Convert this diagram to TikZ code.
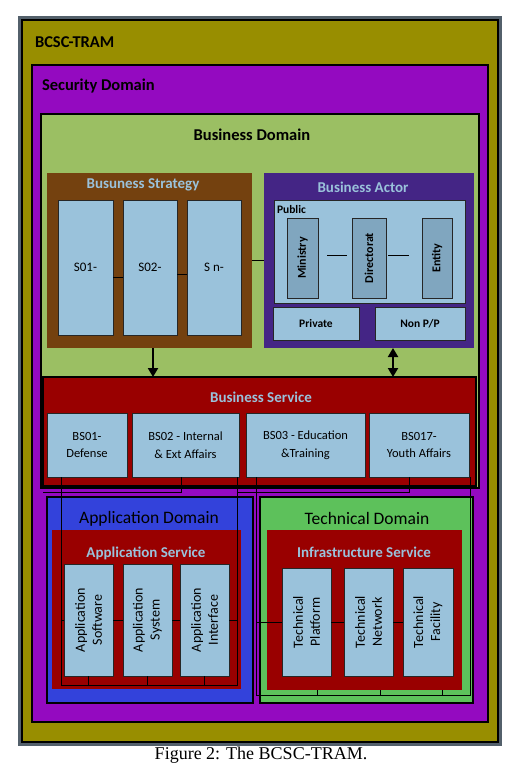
\documentclass[tikz,border=0pt]{standalone}
\usepackage{fontspec}
\setmainfont{Carlito}
\newfontfamily\capfont{Liberation Serif}
\usetikzlibrary{arrows.meta,calc}
\definecolor{cgray}{HTML}{53606B}
\definecolor{colive}{HTML}{988E00}
\definecolor{cpurple}{HTML}{940AC0}
\definecolor{clgreen}{HTML}{9BBF63}
\definecolor{cbrown}{HTML}{74410F}
\definecolor{cindigo}{HTML}{442585}
\definecolor{clblue}{HTML}{9AC2DB}
\definecolor{cmblue}{HTML}{80A6BF}
\definecolor{cdred}{HTML}{990000}
\definecolor{cblue}{HTML}{3342DB}
\definecolor{cgreen}{HTML}{5DC15B}
\newcommand\fsz[1]{\fontsize{#1}{#1}\selectfont}
\newcommand\bx[7]{\node[#1,anchor=north west,minimum width={(#4)-(#2)},minimum height={(#5)-(#3)}] (#6) at (#2,#3) {#7};}
\begin{document}
\begin{tikzpicture}[x=1pt,y=-1pt,
  every node/.style={inner sep=0pt,outer sep=0pt},
  domframe/.style={draw=black,line width=1.5pt},
  lbox/.style={fill=clblue,draw=black!85,line width=0.7pt,align=center},
  mbox/.style={fill=cmblue,draw=black!85,line width=0.7pt},
  bigttl/.style={font=\bfseries\fsz{16.5}},
  domttl/.style={font=\fsz{17.5}},
  svcttl/.style={font=\bfseries\fsz{15},text=clblue},
  conn/.style={draw=black,line width=0.7pt},
  bigarrow/.style={draw=black,line width=2pt}
]
\useasboundingbox (0,0) rectangle (522,767);
% frames
\bx{fill=cgray}{18}{16}{502}{746}{frame}{}
\bx{fill=colive,draw=black,line width=1.2pt}{22}{20}{498}{742}{olive}{}
\bx{fill=cpurple,domframe}{32}{65}{488}{722}{sec}{}
\bx{fill=clgreen,domframe}{41}{114}{479}{488}{bus}{}
\node[bigttl,anchor=west] (tram-t) at (35,42) {BCSC-TRAM};
\node[bigttl,anchor=west] (sec-t) at (42,86) {Security Domain};
\node[bigttl] (bus-t) at (252,135) {Business Domain};
% strategy
\bx{fill=cbrown}{47}{173}{252}{348}{strat}{}
\node[svcttl] (strat-t) at (143,185) {Busuness Strategy};
\bx{lbox,font=\fsz{13}}{58}{200}{113}{335}{s01}{S01-}
\bx{lbox,font=\fsz{13}}{123}{200}{177}{335}{s02}{S02-}
\bx{lbox,font=\fsz{13}}{187}{200}{241}{335}{sn}{S n-}
% actor
\bx{fill=cindigo}{264}{173}{474}{348}{actor}{}
\node[svcttl] (actor-t) at (363,187) {Business Actor};
\bx{lbox}{274}{200}{465}{303}{public}{}
\node[font=\bfseries\fsz{11.5},anchor=west] (public-t) at (277,210) {Public};
\bx{mbox}{287}{218}{318}{298}{ministry}{}
\bx{mbox}{352}{218}{386}{298}{direct}{}
\bx{mbox}{422}{218}{452}{298}{entity}{}
\node[rotate=90,font=\bfseries\fsz{12}] (ministry-t) at (ministry) {Ministry};
\node[rotate=90,font=\bfseries\fsz{12}] (direct-t) at (direct) {Directorat};
\node[rotate=90,font=\bfseries\fsz{12}] (entity-t) at (entity) {Entity};
\bx{lbox,font=\bfseries\fsz{11.5}}{273}{307}{359}{340}{private}{Private}
\bx{lbox,font=\bfseries\fsz{11.5}}{375}{307}{465}{340}{nonpp}{Non P/P}
% service
\bx{fill=cdred,domframe}{43}{377}{476}{486}{service}{}
\node[svcttl] (service-t) at (261,397) {Business Service};
\bx{lbox,font=\fsz{12.5}}{47}{413}{127}{477}{bs01}{BS01-\\[5pt]Defense}
\bx{lbox,font=\fsz{12.5}}{132}{413}{239}{477}{bs02}{BS02 - Internal\\[5pt]\& Ext Affairs}
\bx{lbox,font=\fsz{12.5}}{246}{413}{365}{477}{bs03}{BS03 - Education\\[5pt]\&Training}
\bx{lbox,font=\fsz{12.5}}{369}{413}{469}{477}{bs17}{BS017-\\[5pt]Youth Affairs}
% application domain
\bx{fill=cblue,domframe}{47}{497}{253}{703}{appd}{}
\node[domttl] (appd-t) at (149,519) {Application Domain};
\bx{fill=cdred}{52}{530}{241}{689}{apps}{}
\node[svcttl] (apps-t) at (146,553) {Application Service};
\bx{lbox}{64}{564}{113}{676}{asw}{}
\bx{lbox}{123}{564}{172}{676}{asys}{}
\bx{lbox}{180}{564}{229}{676}{aint}{}
\node[rotate=90,align=center,font=\fontsize{14}{17}\selectfont] (asw-t) at (asw) {Application\\Software};
\node[rotate=90,align=center,font=\fontsize{14}{17}\selectfont] (asys-t) at (asys) {Application\\System};
\node[rotate=90,align=center,font=\fontsize{14}{17}\selectfont] (aint-t) at (aint) {Application\\Interface};
% technical domain
\bx{fill=cgreen,domframe}{260}{497}{473}{703}{techd}{}
\node[domttl] (techd-t) at (367,518) {Technical Domain};
\bx{fill=cdred}{267}{530}{462}{690}{infra}{}
\node[svcttl] (infra-t) at (364,552) {Infrastructure Service};
\bx{lbox}{282}{568}{331}{676}{tplat}{}
\bx{lbox}{344}{568}{393}{676}{tnet}{}
\bx{lbox}{403}{568}{453}{676}{tfac}{}
\node[rotate=90,align=center,font=\fontsize{14}{17}\selectfont] (tplat-t) at (tplat) {Technical\\Platform};
\node[rotate=90,align=center,font=\fontsize{14}{17}\selectfont] (tnet-t) at (tnet) {Technical\\Network};
\node[rotate=90,align=center,font=\fontsize{14}{17}\selectfont] (tfac-t) at (tfac) {Technical\\Facility};
% connectors in business domain
\draw[conn] ([yshift=-9.5pt]s01.east) -- ([yshift=-9.5pt]s02.west);
\draw[conn] ([yshift=-6.5pt]s02.east) -- ([yshift=-6.5pt]sn.west);
\draw[conn] (strat.east) -- (actor.west);
\draw[conn,shorten <=9pt,shorten >=5pt] ([yshift=3pt]ministry.east) -- ([yshift=3pt]direct.west);
\draw[conn,shorten <=2pt,shorten >=13pt] ([yshift=3pt]direct.east) -- ([yshift=3pt]entity.west);
\draw[bigarrow,-{Triangle[width=10pt,length=9pt]}] ([xshift=3.5pt]strat.south) -- ([xshift=3.5pt]strat.south |- service.north);
\draw[bigarrow,{Triangle[width=10pt,length=9pt]}-{Triangle[width=10pt,length=9pt]}] ([xshift=24pt]actor.south) -- ([xshift=24pt]actor.south |- service.north);
% web of thin lines
\coordinate (appL) at (61,685);
\coordinate (appR) at (237,685);
\coordinate (bsA) at (181,492);
\coordinate (bsB) at (43,492);
\coordinate (bsC) at (409,492);
\coordinate (bsD) at (237,492);
\coordinate (techL) at (256,695);
\coordinate (techR) at (470,695);
\draw[conn] ([xshift=-26pt]bs01.south) -- (appL) -- (appR) -- ([xshift=51.5pt]bs02.south);
\draw[conn] ([xshift=-4.5pt]bs02.south) -- (bsA) -- (bsB);
\draw[conn] ([xshift=-10pt]bs17.south) -- (bsC) -- (bsD);
\draw[conn] ([xshift=-49.5pt]bs03.south) -- (techL) -- (techR) -- ([xshift=51pt]bs17.south);
\draw[conn] (asw.south) -- (asw.south |- appL);
\draw[conn] (asys.south) -- (asys.south |- appL);
\draw[conn] (aint.south) -- (aint.south |- appL);
\draw[conn] (appL |- asw.west) -- (asw.west);
\draw[conn] (asw.east) -- (asys.west);
\draw[conn] (asys.east) -- (aint.west);
\draw[conn] (aint.east) -- (appR |- aint.east);
\draw[conn] (techL |- tplat.west) -- (tplat.west);
\draw[conn] (tplat.east) -- (tnet.west);
\draw[conn] (tnet.east) -- (tfac.west);
\draw[conn] ([xshift=-47.5pt]infra.south) -- ([xshift=-47.5pt]infra.south |- techL);
\draw[conn] ([xshift=15.5pt]infra.south) -- ([xshift=15.5pt]infra.south |- techL);
\draw[conn] ([xshift=77.5pt]infra.south) -- ([xshift=77.5pt]infra.south |- techL);
% caption
\node[font=\capfont\fsz{18}] (caption) at (261,755) {Figure 2: The BCSC-TRAM.};
\end{tikzpicture}
\end{document}
